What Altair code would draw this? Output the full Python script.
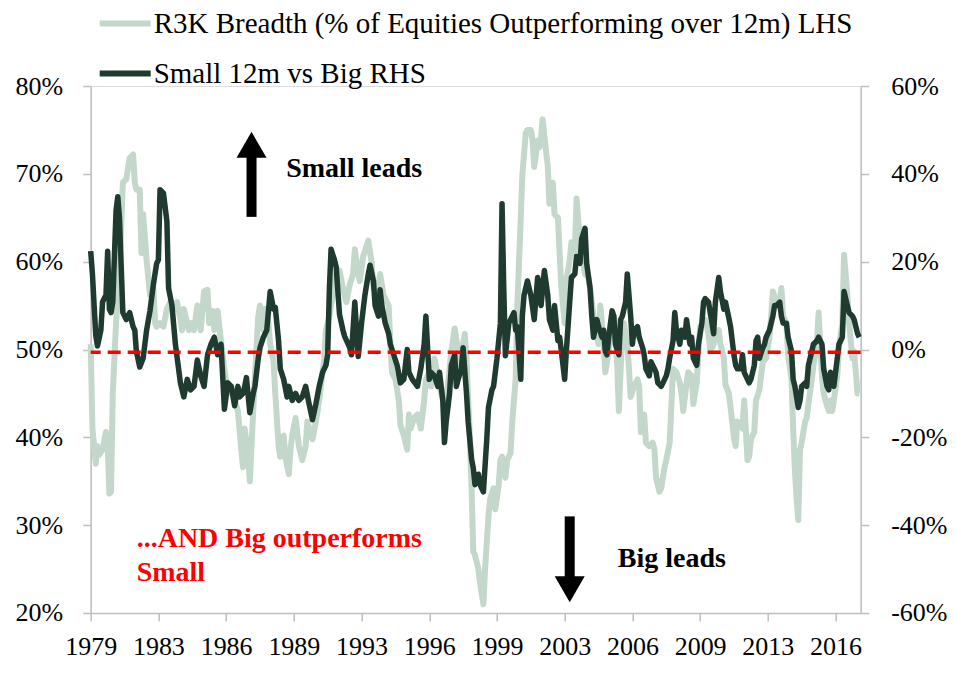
import altair as alt
import pandas as pd

# ---------------- data ----------------
# x positions are month offsets counted from December 1979 (first plotted month)
breadth_name = "R3K Breadth (% of Equities Outperforming over 12m) LHS"
relperf_name = "Small 12m vs Big RHS"

breadth_month = [0, 1, 3, 4, 5, 7, 9, 10, 11, 12, 13, 15, 17, 19, 21, 23, 25, 26, 27, 29, 30, 31, 33, 35, 37, 38, 39, 41, 43, 45,
                 47, 49, 51, 53, 54, 55, 57, 58, 59, 61, 63, 64, 65, 67, 69, 70, 72, 73, 74, 75, 77, 79, 81, 83, 85, 87, 89, 90, 91, 93,
                 94, 96, 97, 99, 100, 102, 103, 105, 106, 108, 109, 111, 112, 114, 115, 117, 118, 119, 121, 123, 125, 127, 128, 129, 131, 133, 135, 136, 138, 139,
                 141, 143, 145, 147, 149, 151, 153, 155, 156, 158, 159, 161, 164, 166, 167, 169, 171, 173, 176, 177, 178, 180, 182, 183, 185, 187, 188, 189, 191, 193,
                 195, 197, 198, 200, 201, 203, 205, 207, 209, 211, 213, 215, 217, 218, 219, 221, 222, 224, 225, 226, 227, 229, 230, 232, 233, 235, 236, 238, 239, 241,
                 242, 243, 245, 246, 248, 249, 251, 252, 254, 255, 257, 258, 260, 261, 262, 264, 265, 266, 267, 269, 270, 271, 273, 274, 276, 277, 278, 280, 281, 283,
                 284, 286, 287, 289, 290, 292, 294, 295, 297, 299, 300, 301, 303, 304, 306, 307, 309, 310, 311, 312, 314, 315, 317, 318, 319, 321, 323, 324, 325, 327,
                 328, 330, 332, 333, 334, 336, 337, 339, 340, 342, 343, 344, 346, 348, 349, 350, 352, 353, 355, 356, 358, 359, 360, 362, 363, 365, 366, 368, 369, 371,
                 372, 374, 375, 377, 378, 380, 381, 382, 384, 385, 386, 388, 389, 390, 392, 393, 395, 396, 397, 399, 401, 402, 403, 405, 407, 408, 409, 411, 412, 414,
                 415, 416, 417, 418, 419, 420, 422, 423, 424, 426, 427, 429, 430, 431, 432, 433, 434, 436, 437, 438, 439, 441, 442, 444, 445, 447, 448, 450, 451, 453,
                 454]
breadth_pct = [50.6, 41, 37, 39, 38, 38.6, 40.6, 39, 33.6, 33.8, 45, 53, 58.6, 69, 69.4, 71.8, 72.2, 69, 68.2, 68.2, 61, 65.4, 60.2, 56.2, 57, 53, 52.6, 53, 52.6, 54.6,
               55.4, 54.6, 55.4, 53.4, 52.2, 54.6, 53, 52.2, 53, 52.2, 55, 53.4, 52.2, 56.6, 56.8, 53, 54.4, 52.2, 53.5, 54.4, 51, 47.8, 45, 45.8, 44.2, 43, 38.6, 36.6, 41, 37.8,
               35, 43, 47, 53.8, 55, 52.2, 54.6, 53, 50.6, 48.6, 45, 39, 37.8, 40.2, 37.8, 35.8, 38.6, 40.2, 42.2, 39, 37.4, 39, 41.8, 41, 39.8, 41.8, 44.2, 45.8, 49, 52.2,
               53.8, 56.2, 58.6, 59, 57, 55.4, 57.4, 58.6, 61.4, 58.6, 57.8, 60.6, 62.4, 59.8, 57, 56.2, 58.6, 56.2, 55, 50.6, 47.4, 46.6, 44.2, 41.4, 40.2, 38.6, 42.6, 41, 42.2, 42.6,
               41, 44.2, 46.6, 47.4, 45.8, 49, 47, 45, 43.8, 45.8, 49.8, 52.4, 49.8, 47.8, 49.4, 51.8, 49, 40, 34, 27, 26.6, 25, 23.4, 21, 25, 31, 33, 34.2, 31.8, 34.6,
               37.4, 37.8, 35.4, 37.4, 38.2, 41.8, 46.6, 55, 65, 69.8, 74.6, 75, 75, 73.8, 70.8, 73.8, 73, 74.2, 76.2, 72.6, 71, 66.6, 69, 65.4, 65, 61, 57, 53, 57.8, 60.2,
               62.2, 61, 67.2, 62.2, 61, 58.6, 58.2, 57, 53.8, 51.4, 50.6, 55, 51, 47.4, 49.8, 51.4, 53.8, 51.8, 48.2, 43, 52.2, 53, 50.6, 47.8, 44.6, 45.8, 46.6, 45.8, 40.6, 42.6,
               39.4, 39, 39.4, 38.6, 35.4, 33.8, 34.2, 36.6, 37.4, 39.4, 43.4, 47.8, 47.4, 46.2, 45, 43, 46.2, 47.4, 47, 43.8, 46.2, 49.8, 52.6, 53, 53.4, 51.8, 49.8, 50.6, 51.8, 52.2,
               50.6, 49, 46, 45, 43.4, 40, 39, 41.8, 41.4, 41, 44.2, 37.4, 37.8, 39.8, 40.6, 44.2, 45.4, 47, 48.6, 49, 51.4, 53.8, 56.6, 55.4, 55.4, 57, 53.8, 53, 49.4, 46.6,
               41, 36.2, 33, 30.6, 38.6, 39.4, 41.8, 42.2, 43.8, 46.6, 48.2, 50.6, 54.2, 50.6, 47, 45, 44.2, 43, 44.2, 43, 44.2, 47, 50.2, 53, 60.8, 56.2, 53, 49, 49.8, 45,
               45]

relperf_month = [0, 1, 3, 4, 6, 7, 9, 10, 11, 12, 13, 15, 16, 17, 19, 21, 23, 25, 26, 27, 29, 31, 33, 35, 37, 39, 40, 41, 43, 45,
                 46, 48, 50, 51, 53, 55, 57, 59, 61, 63, 65, 67, 69, 71, 73, 75, 77, 79, 81, 83, 85, 87, 88, 90, 91, 92, 94, 96, 97, 99,
                 100, 102, 104, 106, 108, 109, 111, 112, 114, 116, 117, 119, 121, 123, 125, 127, 129, 131, 133, 135, 137, 139, 140, 141, 142, 144, 145, 147, 149, 150,
                 153, 154, 156, 157, 158, 160, 162, 164, 165, 167, 168, 170, 171, 172, 174, 176, 177, 179, 181, 183, 185, 187, 188, 190, 193, 195, 197, 198, 200, 201,
                 203, 205, 206, 208, 209, 210, 212, 213, 215, 216, 217, 219, 220, 222, 223, 225, 226, 227, 229, 230, 232, 234, 235, 237, 238, 240, 242, 243, 244, 245,
                 247, 248, 250, 251, 252, 254, 255, 256, 258, 259, 260, 262, 264, 265, 266, 268, 270, 271, 273, 274, 276, 277, 278, 280, 281, 283, 284, 286, 287, 289,
                 290, 292, 293, 295, 296, 297, 299, 300, 302, 303, 304, 305, 306, 308, 309, 310, 312, 313, 314, 316, 317, 319, 320, 321, 323, 324, 326, 327, 328, 330,
                 331, 333, 334, 335, 337, 338, 340, 341, 342, 344, 345, 346, 348, 349, 351, 352, 354, 355, 356, 358, 359, 361, 362, 363, 365, 367, 368, 369, 371, 372,
                 374, 375, 377, 378, 380, 381, 382, 384, 385, 386, 388, 389, 390, 392, 393, 394, 395, 397, 398, 399, 401, 403, 404, 405, 407, 408, 409, 411, 412, 414,
                 415, 416, 418, 419, 420, 422, 423, 424, 426, 427, 429, 430, 432, 433, 435, 436, 437, 438, 439, 441, 442, 444, 445, 447, 448, 450, 451, 453, 454]
relperf_pct = [22.4, 17.2, 3.2, 0.8, 4.4, 10.8, 12.4, 22.4, 9.2, 8.4, 10.8, 31.6, 34.8, 30, 8.4, 6.8, 8.4, 5.2, 4.4, -0.4, -4, -2, 4.4, 8.8, 14.8, 19.6, 20.4, 36.4, 35.6, 29.2,
               14, 10, 1.2, -1.6, -7.6, -10.8, -6.8, -9.2, -8.4, -2.4, -6, -8.4, -1.2, 1.2, 2.8, -1.2, 1.2, -13.6, -7.6, -8.4, -12.8, -8.4, -10.8, -10, -8.4, -6.4, -14.4, -10, -8.4, -2,
               0.4, 2.8, 4.4, 13.2, 9.2, 9.6, 2, -4.4, -6.8, -10.8, -8.4, -11.6, -10, -11.6, -10.8, -8.4, -12.4, -16, -12.4, -8.4, -5.2, -3.6, -1.2, 14, 22.8, 20.4, 18.8, 8, 4.4, 3,
               0.4, -1.2, 10.8, 4.4, -1.6, 6, 12.4, 17.2, 19.2, 15.6, 10, 7.6, 13.6, 10, 6, 3.6, 1.2, -1.2, -3.6, -7.6, -6.8, 0, -5.2, -6.8, -8.4, -4.4, 1.2, 7.6, -6.8, -5.2,
               -6, -8.4, -5.2, -11.6, -21.2, -16.4, -10, -3.6, -1.2, -8.4, -6.8, -4.4, 0.4, -10, -16.4, -25, -27, -30.8, -28.4, -30.8, -32.4, -20.4, -13.2, -9.2, -8.4, -2, 6, 33.2, 14, -1.4,
               6, 6.8, 8.4, 4.4, 5.2, -6.8, 7.6, 12.4, 15.6, 14, 12.4, 6.8, 16.4, 14.8, 10, 18, 12.4, 6.8, 4.4, 10, 2, 2.8, -0.4, -6.8, -0.4, 10.8, 16.4, 17.2, 21.2, 19.6,
               25.2, 27.6, 19.6, 14, 7.6, 2.8, 6.8, 5.2, 2.8, 4.4, -0.4, -1.2, 2.8, 8.8, 7.6, 1.2, -1.2, 6.8, 7.6, 10.8, 17.2, 7.6, 1.2, 4.4, 5.2, 2.8, 0.4, -1.2, -4.4, -6,
               -2.8, -4.4, -5.2, -7.6, -8.4, -7.6, -6, -4.4, -2, 2, 8.4, 4.4, 1.2, 4.4, 2.8, 6.8, 1.2, 2.8, -2, -3.6, 1.2, 6, 10.8, 11.6, 10.8, 6, 3.6, 10.8, 16.4, 13.2,
               9.2, 10.8, 7.2, 5.2, -1.2, -3.6, -4.4, -4.4, -1.2, -5.2, -6.8, -7.6, -6.8, -3.6, 2, 2.8, -2, 0.4, 1.2, 2.8, 4.4, 7.6, 10, 10, 10.8, 7.6, 6, 6, 2.8, -0.4,
               -6.8, -8.4, -13.2, -11.6, -8.4, -7.6, -8.4, -3.6, -0.4, 1.2, 2, 2.8, 1.2, -4.4, -8.4, -9.2, -5.2, -6.8, -8.4, -2, 1.2, 2.8, 13.2, 10, 8.4, 7.6, 6.8, 3.6, 2.8]

assert len(breadth_month) == len(breadth_pct)
assert len(relperf_month) == len(relperf_pct)

x_tick_years_months = [(1979, 12), (1983, 4), (1986, 8), (1989, 12), (1993, 4), (1996, 8),
                       (1999, 12), (2003, 4), (2006, 8), (2009, 12), (2013, 4), (2016, 8)]
left_ticks = [20, 30, 40, 50, 60, 70, 80]
right_ticks = [-60, -40, -20, 0, 20, 40, 60]
zero_line_rhs = -0.6

# annotations: (text, month offset, LHS value, colour)
ann_text = ["Small leads", "Big leads", "...AND Big outperforms", "Small"]
ann_month = [115.5, 311.4, 27.2, 27.2]
ann_value = [70.6, 26.1, 28.4, 24.5]
ann_color = ["black", "black", "#ff0000", "#ff0000"]
# arrows: month offset, shaft start, shaft end, head centre, head shape
arrow_month = [95, 283]
arrow_from = [65.1, 31.0]
arrow_to = [72.2, 23.8]
arrow_head = [73.3, 22.7]
arrow_shape = ["triangle-up", "triangle-down"]

# ---------------- build tables ----------------
START = pd.Timestamp("1979-12-01")


def to_date(m):
    whole = int(m)
    frac = m - whole
    d = START + pd.DateOffset(months=whole)
    return d + pd.Timedelta(days=round(frac * 30.4))


breadth_df = pd.DataFrame({"date": [to_date(m) for m in breadth_month],
                           "value": breadth_pct, "series": breadth_name})
relperf_df = pd.DataFrame({"date": [to_date(m) for m in relperf_month],
                           "value": relperf_pct, "series": relperf_name})
ann_df = pd.DataFrame({"date": [to_date(m) for m in ann_month], "value": ann_value,
                       "text": ann_text, "col": ann_color})
arrow_df = pd.DataFrame({"date": [to_date(m) for m in arrow_month], "y1": arrow_from,
                         "y2": arrow_to, "head": arrow_head, "shape": arrow_shape})

LIGHT = "#c3d8cb"
DARK = "#1f3a2f"
GREY = "#bfbfbf"
FONT = "Liberation Serif"

x_enc = alt.X("date:T",
              scale=alt.Scale(domain=[alt.DateTime(year=1979, month=12, date=1),
                                      alt.DateTime(year=2017, month=10, date=27)]),
              axis=alt.Axis(values=[alt.DateTime(year=y, month=m, date=1) for y, m in x_tick_years_months],
                            format="%Y", title=None, grid=False, domainColor=GREY, domainWidth=1.5,
                            tickColor=GREY, tickWidth=1.5, tickSize=8, labelFont=FONT, labelFontSize=26,
                            labelColor="black", labelPadding=13, labelAngle=0, labelOverlap=False,
                            labelFlush=False))

left_scale = alt.Scale(domain=[20, 80], nice=False, zero=False)
left_axis = alt.Axis(orient="left", values=left_ticks, labelExpr="datum.value + '%'", title=None,
                     grid=False, domainColor=GREY, domainWidth=1.5, tickColor=GREY, tickWidth=1.5,
                     tickSize=8, labelFont=FONT, labelFontSize=26, labelColor="black", labelPadding=20)
right_scale = alt.Scale(domain=[-60, 60], nice=False, zero=False)
right_axis = alt.Axis(orient="right", values=right_ticks, labelExpr="datum.value + '%'", title=None,
                      grid=False, domainColor=GREY, domainWidth=1.5, tickColor=GREY, tickWidth=1.5,
                      tickSize=8, labelFont=FONT, labelFontSize=26, labelColor="black", labelPadding=22)

color_enc = alt.Color("series:N",
                      scale=alt.Scale(domain=[breadth_name, relperf_name], range=[LIGHT, DARK]),
                      legend=alt.Legend(orient="none", legendX=6, legendY=-91, direction="vertical",
                                        title=None, symbolType="stroke", symbolSize=2600,
                                        symbolStrokeWidth=6, labelFont=FONT, labelFontSize=29,
                                        labelColor="black", labelOffset=0, rowPadding=6, padding=0,
                                        labelLimit=900))

light_line = alt.Chart(breadth_df).mark_line(strokeWidth=6, strokeJoin="round").encode(
    x=x_enc, y=alt.Y("value:Q", scale=left_scale, axis=left_axis), color=color_enc)

texts = alt.Chart(ann_df).mark_text(align="left", baseline="middle", font=FONT, fontSize=28,
                                    fontWeight="bold").encode(
    x=x_enc, y=alt.Y("value:Q", scale=left_scale, axis=left_axis), text="text:N",
    color=alt.Color("col:N", scale=None))

shafts = alt.Chart(arrow_df).mark_rule(strokeWidth=10, color="black").encode(
    x=x_enc, y=alt.Y("y1:Q", scale=left_scale, axis=left_axis), y2="y2:Q")

heads = alt.Chart(arrow_df).mark_point(filled=True, size=900, color="black", opacity=1).encode(
    x=x_enc, y=alt.Y("head:Q", scale=left_scale, axis=left_axis),
    shape=alt.Shape("shape:N", scale=None))

dark_line = alt.Chart(relperf_df).mark_line(strokeWidth=5.5, strokeJoin="round").encode(
    x=x_enc, y=alt.Y("value:Q", scale=right_scale, axis=right_axis), color=color_enc)

zero_rule = alt.Chart(pd.DataFrame({"v": [zero_line_rhs]})).mark_rule(
    color="#ff0000", strokeWidth=3.5, strokeDash=[13, 7]).encode(
    y=alt.Y("v:Q", scale=right_scale, axis=right_axis))

left = alt.layer(light_line, shafts, heads, texts)
right = alt.layer(dark_line, zero_rule)

chart = alt.layer(left, right).resolve_scale(y="independent").properties(
    width=770, height=527,
    autosize=alt.AutoSizeParams(type="none"),
    padding={"left": 82.7, "top": 78, "right": 87, "bottom": 50},
).configure_view(stroke=None).configure(background="white")

chart.save("out.html", embed_options={"renderer": "svg", "actions": False})
